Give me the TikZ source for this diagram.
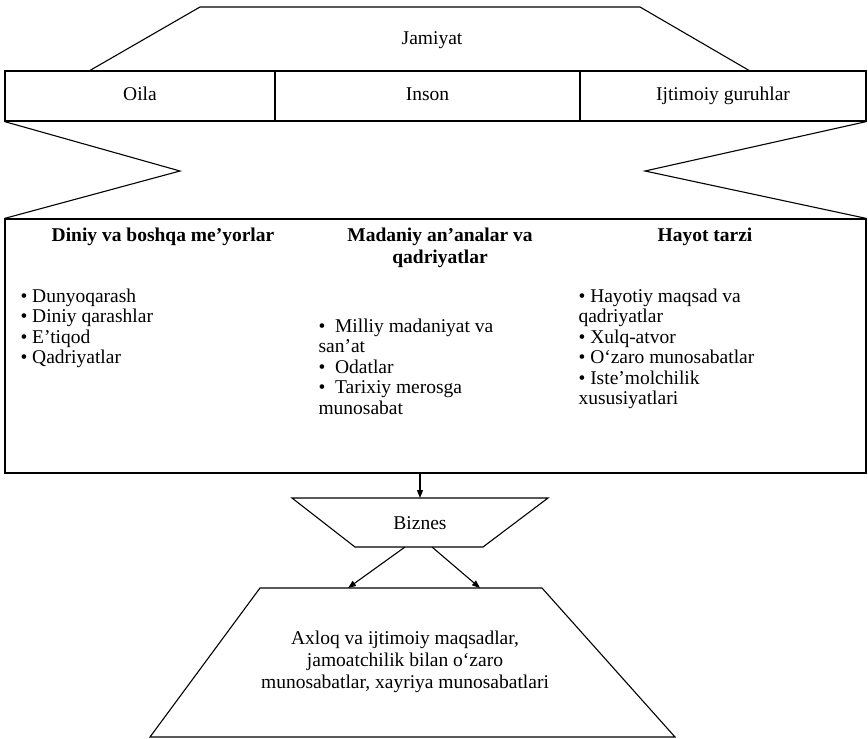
\documentclass[tikz,border=0pt]{standalone}
\usepackage{fontspec}
\setmainfont{Liberation Serif}
\usetikzlibrary{arrows.meta}

\begin{document}
\begin{tikzpicture}[
    x=1pt, y=-1pt,
    >={Triangle[length=8pt,width=6pt]},
    line width=1.1pt,
    cell/.style={draw, rectangle, minimum height=50pt, inner sep=0pt, text height=13pt, text depth=4pt, font=\fontsize{19.5}{22}\selectfont},
    head/.style={inner sep=0pt, align=center, font=\fontsize{19.5}{22}\selectfont\bfseries},
    items/.style={inner sep=0pt, align=left, anchor=north west, font=\fontsize{19.5}{20.5}\selectfont},
    txt/.style={inner sep=0pt, align=center, font=\fontsize{19.5}{22}\selectfont}
]
\useasboundingbox (0,0) rectangle (868,739);

% Jamiyat
\draw (89,71) -- (200,7) -- (640,7) -- (750,71);
\node[txt] (jam) at (432,40) {Jamiyat};

% Oila, Inson, Ijtimoiy guruhlar
\node[cell, minimum width=270pt] (oila) at (140,96) {Oila};
\node[cell, minimum width=305pt] (inson) at (427.5,96) {Inson};
\node[cell, minimum width=286pt] (guruh) at (723,96) {Ijtimoiy guruhlar};

% Main box
\node[draw, rectangle, minimum width=861pt, minimum height=254pt, inner sep=0pt] (box) at (435.5,346) {};

% Zigzags
\draw (oila.south west) -- (180,171) -- (box.north west);
\draw (guruh.south east) -- (645,171) -- (box.north east);

% Headings
\node[head] (h1) at (163,237) {Diniy va boshqa me’yorlar};
\node[head] (h2) at (440,248) {Madaniy an’analar va\\qadriyatlar};
\node[head] (h3) at (705,237) {Hayot tarzi};

% Lists
\node[items] (l1) at (20,288) {•\ Dunyoqarash\\•\ Diniy qarashlar\\•\ E’tiqod\\•\ Qadriyatlar};
\node[items] (l2) at (318,318) {•\ \ Milliy madaniyat va\\san’at\\•\ \ Odatlar\\•\ \ Tarixiy merosga\\munosabat};
\node[items] (l3) at (578,288) {•\ Hayotiy maqsad va\\qadriyatlar\\•\ Xulq-atvor\\•\ O‘zaro munosabatlar\\•\ Iste’molchilik\\xususiyatlari};

% Biznes
\coordinate (biztop) at (420,498);
\draw (292,498) -- (548,498) -- (483,547) -- (355,547) -- cycle;
\node[txt] (biz) at (420,523) {Biznes};
\draw[->] (box.south -| biztop) -- (biztop);

% Axloq
\coordinate (bizl) at (405,547);
\coordinate (bizr) at (432,547);
\coordinate (axl) at (348,588);
\coordinate (axr) at (480,588);
\draw (150,737) -- (260,588) -- (542,588) -- (675,737) -- cycle;
\node[txt] (axloq) at (405,662) {Axloq va ijtimoiy maqsadlar,\\jamoatchilik bilan o‘zaro\\munosabatlar, xayriya munosabatlari};
\draw[->] (bizl) -- (axl);
\draw[->] (bizr) -- (axr);

\end{tikzpicture}
\end{document}
